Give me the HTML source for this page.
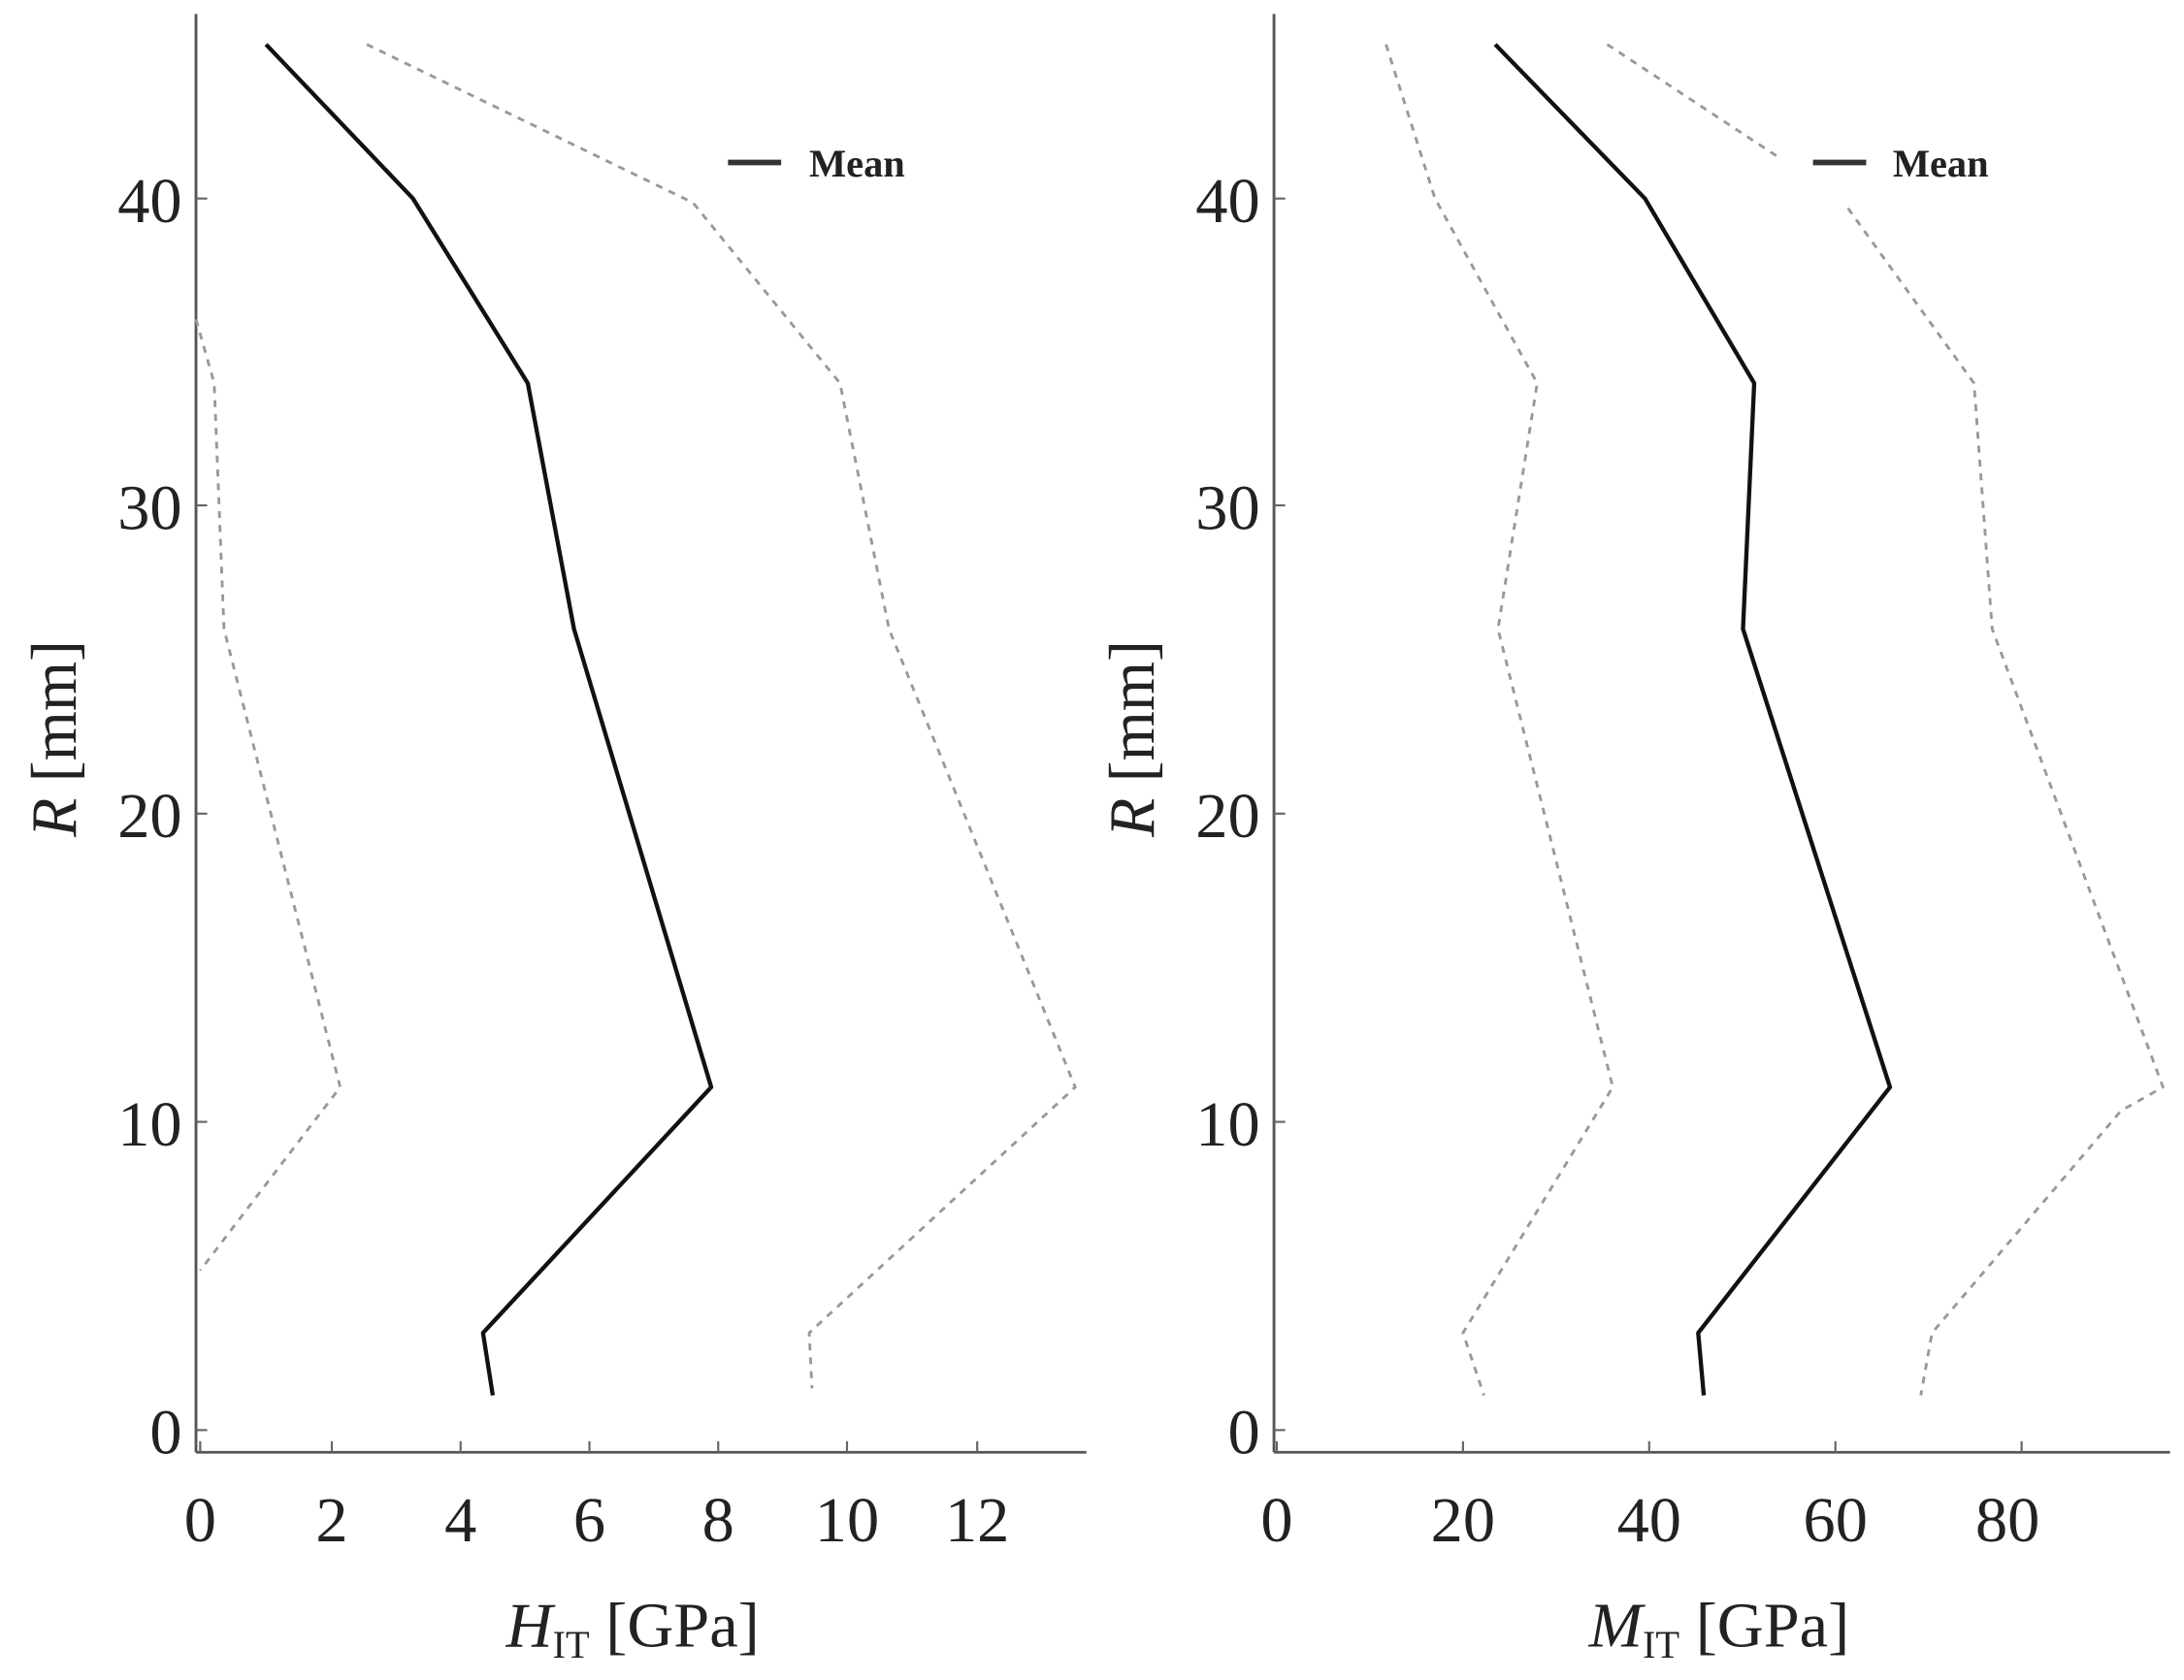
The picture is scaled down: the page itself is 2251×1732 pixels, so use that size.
<!DOCTYPE html>
<html><head><style>html,body{margin:0;padding:0;background:#fff}svg{display:block}</style></head>
<body>
<svg width="2251" height="1732" viewBox="0 0 1560 1210" preserveAspectRatio="none" xmlns="http://www.w3.org/2000/svg" font-family="Liberation Serif, serif">
<rect width="1560" height="1210" fill="#fff"/>
<g stroke="#555" stroke-width="2" fill="none">
<line x1="140" y1="10" x2="140" y2="1046"/>
<line x1="140" y1="1046" x2="776" y2="1046"/>
<line x1="910" y1="10" x2="910" y2="1046"/>
<line x1="910" y1="1046" x2="1550" y2="1046"/>
</g>
<g stroke="#666" stroke-width="1.5">
<line x1="143" y1="1046" x2="143" y2="1038"/><line x1="237" y1="1046" x2="237" y2="1038"/><line x1="329" y1="1046" x2="329" y2="1038"/><line x1="421" y1="1046" x2="421" y2="1038"/><line x1="513" y1="1046" x2="513" y2="1038"/><line x1="605" y1="1046" x2="605" y2="1038"/><line x1="698" y1="1046" x2="698" y2="1038"/>
<line x1="912" y1="1046" x2="912" y2="1038"/><line x1="1045" y1="1046" x2="1045" y2="1038"/><line x1="1178" y1="1046" x2="1178" y2="1038"/><line x1="1311" y1="1046" x2="1311" y2="1038"/><line x1="1444" y1="1046" x2="1444" y2="1038"/>
<line x1="140" y1="1030" x2="148" y2="1030"/><line x1="140" y1="808" x2="148" y2="808"/><line x1="140" y1="586" x2="148" y2="586"/><line x1="140" y1="364" x2="148" y2="364"/><line x1="140" y1="143" x2="148" y2="143"/>
<line x1="910" y1="1030" x2="918" y2="1030"/><line x1="910" y1="808" x2="918" y2="808"/><line x1="910" y1="586" x2="918" y2="586"/><line x1="910" y1="364" x2="918" y2="364"/><line x1="910" y1="143" x2="918" y2="143"/>
</g>
<g fill="none" stroke-linejoin="round">
<polyline stroke="#111" stroke-width="3" points="190,32 295,143 377,276 410,453 508,783 345,960 352,1005"/>
<polyline stroke="#999" stroke-width="2" stroke-dasharray="5,5" points="262,32 495,146 600,276 635,453 768,783 578,960 580,1000"/>
<polyline stroke="#999" stroke-width="2" stroke-dasharray="5,5" points="140,230 153,276 160,453 243,783 143,915"/>
<polyline stroke="#111" stroke-width="3" points="1068,32 1175,143 1253,276 1245,453 1350,783 1213,960 1217,1005"/>
<polyline stroke="#999" stroke-width="2" stroke-dasharray="5,5" points="990,32 1025,143 1098,276 1070,453 1152,783 1045,960 1060,1005"/>
<polyline stroke="#999" stroke-width="2" stroke-dasharray="5,5" points="1148,32 1270,113"/>
<polyline stroke="#999" stroke-width="2" stroke-dasharray="5,5" points="1320,150 1410,276 1423,453 1545,783 1515,800 1380,960 1372,1005"/>
<line x1="520" y1="117" x2="558" y2="117" stroke="#333" stroke-width="4"/>
<line x1="1295" y1="117" x2="1333" y2="117" stroke="#333" stroke-width="4"/>
</g>
<g font-weight="bold" font-size="28" fill="#222">
<text x="578" y="127">Mean</text><text x="1352" y="127">Mean</text>
</g>
<g font-size="46" fill="#222" text-anchor="end">
<text x="130" y="1047">0</text><text x="130" y="825">10</text><text x="130" y="603">20</text><text x="130" y="381">30</text><text x="130" y="160">40</text>
<text x="900" y="1047">0</text><text x="900" y="825">10</text><text x="900" y="603">20</text><text x="900" y="381">30</text><text x="900" y="160">40</text>
</g>
<g font-size="46" fill="#222" text-anchor="middle">
<text x="143" y="1110">0</text><text x="237" y="1110">2</text><text x="329" y="1110">4</text><text x="421" y="1110">6</text><text x="513" y="1110">8</text><text x="605" y="1110">10</text><text x="698" y="1110">12</text>
<text x="912" y="1110">0</text><text x="1045" y="1110">20</text><text x="1178" y="1110">40</text><text x="1311" y="1110">60</text><text x="1434" y="1110">80</text>
<text x="452" y="1186"><tspan font-style="italic">H</tspan><tspan font-size="28" dy="8">IT</tspan><tspan dy="-8"> [GPa]</tspan></text>
<text x="1228" y="1186"><tspan font-style="italic">M</tspan><tspan font-size="28" dy="8">IT</tspan><tspan dy="-8"> [GPa]</tspan></text>
<text transform="translate(54,532) rotate(-90)"><tspan font-style="italic">R</tspan> [mm]</text>
<text transform="translate(824,532) rotate(-90)"><tspan font-style="italic">R</tspan> [mm]</text>
</g>
</svg>
</body></html>
